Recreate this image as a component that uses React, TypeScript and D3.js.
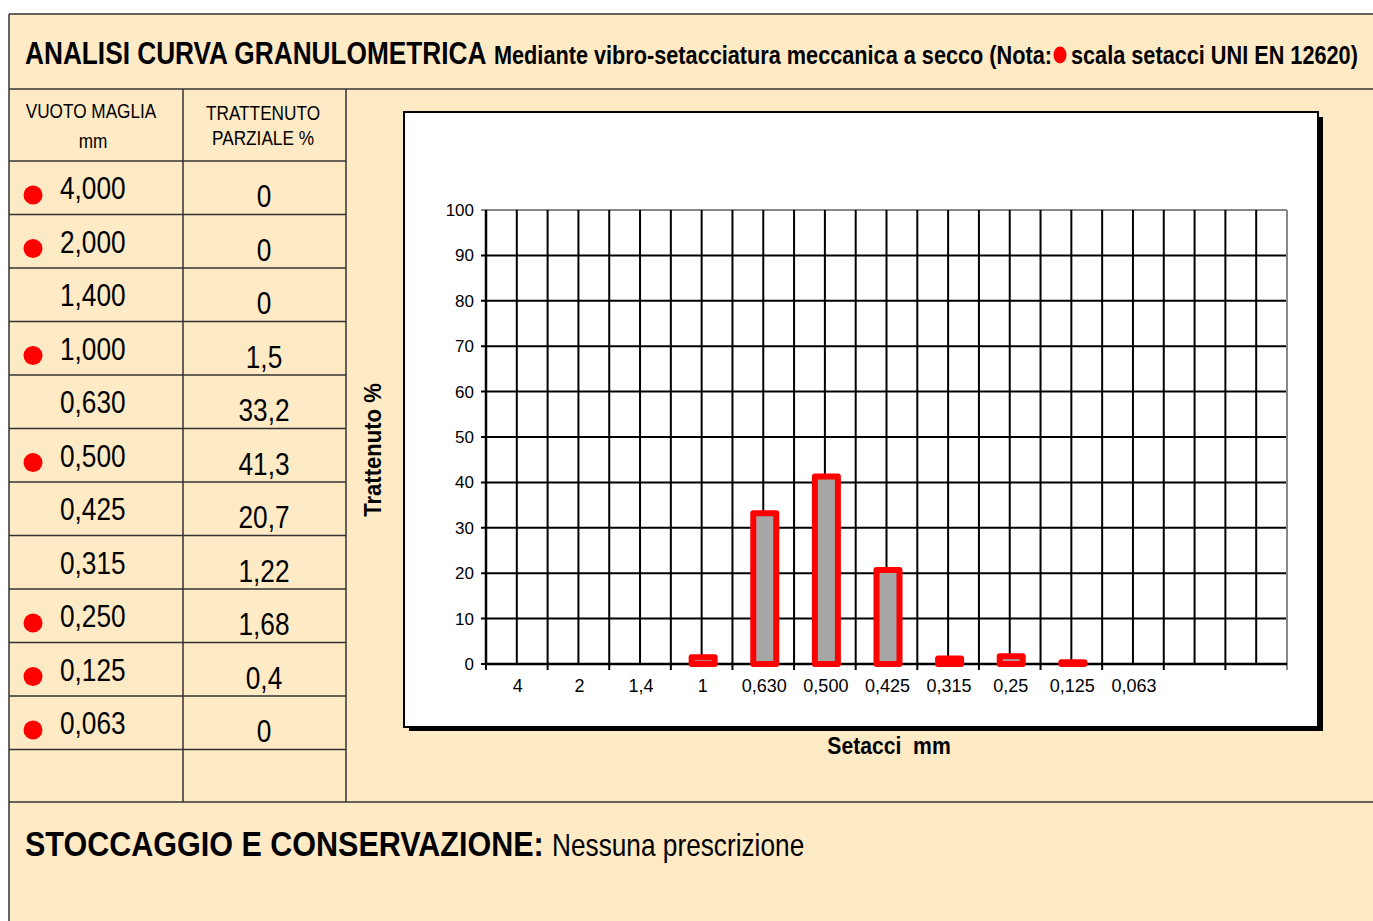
import React from 'react'
import * as d3 from 'd3'

// sieve table (mm) and retained % per sieve
const sieveLabels = ['4,000', '2,000', '1,400', '1,000', '0,630', '0,500', '0,425', '0,315', '0,250', '0,125', '0,063']
const retained = [0, 0, 0, 1.5, 33.2, 41.3, 20.7, 1.22, 1.68, 0.4, 0]
const uniSeries = [true, true, false, true, false, true, false, false, true, true, true]

// chart x categories (two trailing empty slots)
const axisLabels = ['4', '2', '1,4', '1', '0,630', '0,500', '0,425', '0,315', '0,25', '0,125', '0,063', '', '']
const yTicks = [0, 10, 20, 30, 40, 50, 60, 70, 80, 90, 100]

const W = 1373
const H = 921
const BG = '#FFEAC6'
const LINE = '#333'
const arial = "'Liberation Sans', Arial, sans-serif"

// no Arial Narrow here: squeeze Liberation Sans instead
function NText(props: any) {
  const { x, y, size, bold, anchor, sx, children } = props
  return (
    <text transform={`translate(${x},${y}) scale(${sx || 0.82},1)`} fontSize={size} fontFamily={arial}
      fontWeight={bold ? 'bold' : 'normal'} textAnchor={anchor || 'start'} style={{ whiteSpace: 'pre' }}>
      {children}
    </text>
  )
}

function Table() {
  const rowTop = 161
  const rowH = 53.5
  const rows = sieveLabels.map((s, i) => {
    const top = rowTop + i * rowH
    return (
      <g key={i}>
        {uniSeries[i] && <circle cx={33} cy={top + 34} r={9.5} fill="#ff0000" />}
        <NText x={60} y={top + 38} size={32}>{s}</NText>
        <NText x={264} y={top + 46} size={32} anchor="middle">
          {String(retained[i]).replace('.', ',')}
        </NText>
        <line x1={9} x2={346} y1={top + rowH} y2={top + rowH} stroke={LINE} strokeWidth={1.5} />
      </g>
    )
  })
  return (
    <g>
      <NText x={91} y={118} size={21} anchor="middle">VUOTO MAGLIA</NText>
      <NText x={93} y={148} size={21} anchor="middle">mm</NText>
      <NText x={263} y={120} size={21} anchor="middle">TRATTENUTO</NText>
      <NText x={263} y={145} size={21} anchor="middle">PARZIALE %</NText>
      <line x1={9} x2={346} y1={161} y2={161} stroke={LINE} strokeWidth={1.5} />
      {rows}
      <line x1={183} x2={183} y1={89} y2={802} stroke={LINE} strokeWidth={1.5} />
      <line x1={346} x2={346} y1={89} y2={802} stroke={LINE} strokeWidth={1.5} />
    </g>
  )
}

function Chart() {
  const x = d3.scaleBand<number>().domain(d3.range(axisLabels.length)).range([486, 1287])
  const y = d3.scaleLinear().domain([0, 100]).range([664, 210])
  const bw = x.bandwidth()
  const barW = 23

  const vLines: number[] = []
  axisLabels.forEach((_, i) => {
    if (i > 0) vLines.push(x(i)!)
    vLines.push(x(i)! + bw / 2)
  })

  return (
    <g>
      {/* frame with shadow */}
      <rect x={409} y={117} width={914} height={614} fill="#000" />
      <rect x={404} y={112} width={914} height={615} fill="#fff" stroke="#000" strokeWidth={2} />

      {yTicks.map(t => (
        <g key={t}>
          <line x1={481} x2={1287} y1={y(t)} y2={y(t)} stroke={t === 100 ? '#888' : '#000'} strokeWidth={2} />
          <text x={474} y={y(t) + 6} fontSize={17} fontFamily={arial} textAnchor="end">{t}</text>
        </g>
      ))}
      {vLines.map((v, i) => (
        <line key={i} x1={v} x2={v} y1={y(100)} y2={y(0)} stroke="#000" strokeWidth={2} />
      ))}
      <line x1={1287} x2={1287} y1={y(100)} y2={y(0) + 6} stroke="#888" strokeWidth={2} />
      <line x1={486} x2={486} y1={y(100)} y2={y(0)} stroke="#000" strokeWidth={2.5} />
      <line x1={486} x2={1287} y1={y(0)} y2={y(0)} stroke="#000" strokeWidth={2.5} />
      {axisLabels.map((_, i) => (
        <line key={i} x1={x(i)!} x2={x(i)!} y1={y(0)} y2={y(0) + 6} stroke="#000" strokeWidth={2} />
      ))}

      {retained.map((v, i) => v > 0 && (
        <rect key={i}
          x={x(i)! + bw / 2 - barW / 2 + 1.5} y={y(v)} width={barW} height={y(0) - y(v)}
          fill="#a6a6a6" stroke="#ff0000" strokeWidth={6} strokeLinejoin="round" />
      ))}

      {axisLabels.map((l, i) => (
        <text key={i} x={x(i)! + bw / 2 + 1} y={692} fontSize={18} fontFamily={arial} textAnchor="middle">{l}</text>
      ))}

      <g transform="translate(381,450) rotate(-90)">
        <NText x={0} y={0} size={23} bold anchor="middle" sx={0.96}>Trattenuto %</NText>
      </g>
      <NText x={889} y={754} size={23} bold anchor="middle" sx={0.92}>{'Setacci  mm'}</NText>
    </g>
  )
}

export default function App() {
  return (
    <svg width={W} height={H} style={{ position: 'absolute', left: 0, top: 0 }}>
      <rect width={W} height={H} fill="#fff" />
      <rect x={9} y={14} width={W - 9} height={H - 14} fill={BG} />
      <line x1={9} x2={W} y1={14} y2={14} stroke={LINE} strokeWidth={1.5} />
      <line x1={9} x2={9} y1={14} y2={H} stroke={LINE} strokeWidth={1.5} />
      <line x1={9} x2={W} y1={89} y2={89} stroke={LINE} strokeWidth={1.5} />
      <line x1={9} x2={W} y1={802} y2={802} stroke={LINE} strokeWidth={1.5} />

      <NText x={25} y={64} size={32} bold>ANALISI CURVA GRANULOMETRICA</NText>
      <NText x={494} y={64} size={25} bold sx={0.868}>Mediante vibro-setacciatura meccanica a secco (Nota:</NText>
      <ellipse cx={1060} cy={55} rx={6.5} ry={8.5} fill="#ff0000" />
      <NText x={1071} y={64} size={25} bold sx={0.868}>scala setacci UNI EN 12620)</NText>

      <Table />
      <Chart />

      <NText x={25} y={856} size={36} bold sx={0.848}>STOCCAGGIO E CONSERVAZIONE:</NText>
      <NText x={552} y={856} size={32}>Nessuna prescrizione</NText>
    </svg>
  )
}
